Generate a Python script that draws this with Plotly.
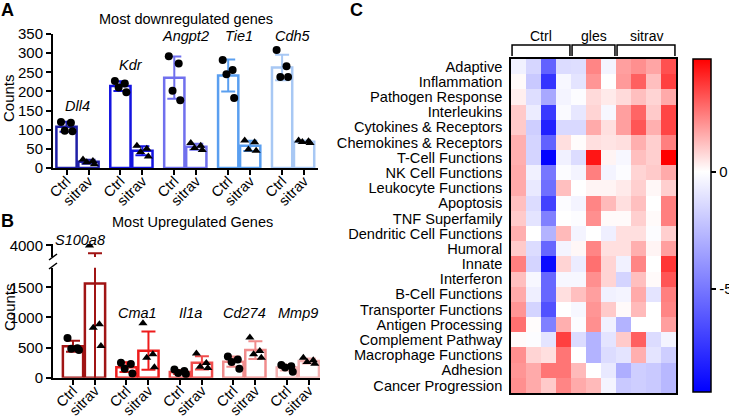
import numpy as np
import plotly.graph_objects as go

W, H = 729, 417
FONT = "Liberation Sans, Arial, sans-serif"

# ---------------- Panel A data ----------------
genes_down = ["Dll4", "Kdr", "Angpt2", "Tie1", "Cdh5"]
ctrl_down = [[120, 118, 97, 96], [227, 221, 210, 198], [292, 273, 202, 177],
             [282, 256, 245, 183], [308, 266, 238, 238]]
sitrav_down = [[22, 18, 15, 10], [58, 50, 42, 30], [65, 58, 52, 47],
               [72, 67, 48, 45], [72, 70, 68, 65]]
colors_down = ["#1f1fa6", "#1414e0", "#7070ee", "#5a9ff0", "#a8c8f4"]

# ---------------- Panel B data ----------------
genes_up = ["S100a8", "Cma1", "Il1a", "Cd274", "Mmp9"]
ctrl_up = [[660, 490, 480, 460], [250, 227, 150, 70], [135, 110, 80, 60],
           [350, 300, 260, 150], [210, 190, 170, 100]]
sitrav_up = [[4000, 887, 830, 527], [903, 388, 332, 173], [400, 245, 180, 160],
             [667, 443, 390, 333], [330, 290, 260, 230]]
colors_up = ["#a01414", "#ee1c1c", "#f04c4c", "#f08c8c", "#f4b2b2"]

conditions = ["Ctrl", "sitrav"]
y_ticks_a = [0, 50, 100, 150, 200, 250, 300, 350]
y_ticks_b_low = [0, 500, 1000, 1500]
y_ticks_b_high = [4000]

# ---------------- Panel C data ----------------
pathways = ["Adaptive", "Inflammation", "Pathogen Response", "Interleukins",
            "Cytokines & Receptors", "Chemokines & Receptors", "T-Cell Functions",
            "NK Cell Functions", "Leukocyte Functions", "Apoptosis", "TNF Superfamily",
            "Dendritic Cell Functions", "Humoral", "Innate", "Interferon",
            "B-Cell Functions", "Transporter Functions", "Antigen Processing",
            "Complement Pathway", "Macrophage Functions", "Adhesion", "Cancer Progression"]
heat_groups = ["Ctrl", "gles", "sitrav"]
heat_group_sizes = [4, 3, 4]
heat_values = [
    [-0.5, -1.5, -5.8, -1.3, -1.2, 2.3, -0.4, 1.8, 2.1, 1.7, 3.3],
    [0.1, -2.0, -7.5, -0.3, -1.0, 2.0, 0.0, 1.9, 3.0, 1.2, 3.6],
    [0.3, -1.2, -3.2, -0.4, -0.1, 0.7, 0.4, 0.7, 1.2, 0.8, 1.6],
    [1.0, -0.7, -7.3, -0.2, -0.9, 0.8, -0.3, 1.8, 2.9, 1.0, 3.5],
    [1.0, -1.8, -8.2, -1.4, -1.4, 1.6, 0.6, 1.8, 3.2, 1.5, 3.5],
    [1.5, -1.6, -5.8, 0.6, 0.05, 0.6, 0.5, 0.6, 1.5, 0.9, 2.4],
    [1.5, -1.6, -9.3, -0.5, -1.3, 4.4, 0.2, -0.3, 1.2, 0.9, 4.8],
    [1.6, -0.5, -5.0, -0.1, -0.4, 2.4, -0.4, -0.1, 0.8, 1.0, 1.6],
    [1.6, -0.8, -5.3, 1.2, 0.0, 0.2, 0.2, 0.4, 0.9, 0.15, 0.9],
    [1.2, -1.3, -7.0, -0.1, -0.4, 2.3, 1.3, 0.6, 1.2, 0.0, 2.4],
    [1.0, -1.0, -4.7, 0.0, -0.1, 2.1, 0.1, 0.1, 0.9, 0.1, 2.4],
    [1.5, 0.0, -2.8, 1.3, -0.4, 0.0, -0.6, 0.6, 0.6, -0.1, 0.9],
    [1.0, -1.3, -5.6, -0.4, 0.15, 2.3, 0.6, 0.6, 1.5, 0.2, 1.8],
    [2.4, -1.6, -9.0, 0.8, -0.7, 2.7, 0.8, -0.5, 2.3, 0.0, 3.8],
    [1.2, -0.3, -5.6, -0.3, -0.3, 2.1, 0.8, -1.6, 1.2, 0.1, 3.2],
    [1.6, -0.6, -5.6, 0.6, 1.2, 1.8, -0.5, -0.4, 1.6, -1.0, 2.4],
    [2.0, -1.6, -6.4, 0.0, -0.3, 2.0, 1.0, 0.1, 1.3, 0.0, 2.3],
    [2.7, 0.05, -4.7, 1.5, -0.1, 2.1, -0.5, -2.8, 0.0, 0.0, 1.8],
    [0.1, -0.1, -1.0, 3.6, -1.3, -2.8, -1.0, 1.0, 3.0, -1.3, -0.4],
    [2.1, 0.8, 0.6, 2.6, 0.0, -2.8, -1.3, -1.0, 1.5, -1.0, -1.8],
    [2.0, 1.6, 2.6, 2.6, 1.3, 0.0, -0.8, -3.0, -1.8, -2.0, -2.6],
    [2.1, 1.6, 1.0, 2.3, 1.6, 1.3, -0.4, -2.0, -1.8, -2.0, -2.6],
]
z_min, z_max = -9.4, 4.8
cbar_ticks = [0, -5]


def px(x):
    return x / W


def py(y):
    return 1 - y / H


fig = go.Figure()

jitter = [-0.25, 0.2, -0.08, 0.27]
GROUP_STEP_A = 2.45
GROUP_STEP_B = 2.43
BAR_W = 0.92


def add_bar_panel(genes, ctrl, sitrav, colors, step, xa, ya_list):
    for g, gene in enumerate(genes):
        xs = [g * step, g * step + 1]
        data = [np.array(ctrl[g], float), np.array(sitrav[g], float)]
        means = [d.mean() for d in data]
        sds = [d.std(ddof=1) for d in data]
        for ya in ya_list:
            fig.add_trace(go.Bar(
                x=xs, y=means, width=BAR_W, xaxis=xa, yaxis=ya,
                marker=dict(color="white", line=dict(color=colors[g], width=2.5)),
                error_y=dict(type="data", array=sds, visible=True,
                             color=colors[g], thickness=2, width=7),
                showlegend=False, hoverinfo="skip"))
            for c, sym in enumerate(["circle", "triangle-up"]):
                pts = data[c]
                fig.add_trace(go.Scatter(
                    x=[xs[c] + jitter[i % 4] for i in range(len(pts))], y=pts,
                    mode="markers", xaxis=xa, yaxis=ya,
                    marker=dict(symbol=sym, size=8, color="black"),
                    showlegend=False, hoverinfo="skip"))


add_bar_panel(genes_down, ctrl_down, sitrav_down, colors_down, GROUP_STEP_A, "x", ["y"])
add_bar_panel(genes_up, ctrl_up, sitrav_up, colors_up, GROUP_STEP_B, "x2", ["y2", "y3"])

# Heatmap
col_labels = []
for gname, n in zip(heat_groups, heat_group_sizes):
    col_labels += [gname] * n
fig.add_trace(go.Heatmap(
    z=heat_values, x=list(range(len(col_labels))), y=pathways,
    xaxis="x3", yaxis="y4", zmin=z_min, zmax=z_max,
    colorscale=[[0, "#0000ff"], [(0 - z_min) / (z_max - z_min), "#ffffff"], [1, "#ff0000"]],
    colorbar=dict(x=px(693), xanchor="left", xpad=0, y=py(59), yanchor="top", ypad=0,
                  len=(392 - 59) / H, thickness=18, outlinecolor="black", outlinewidth=1.5,
                  tickvals=cbar_ticks, ticktext=[str(t) for t in cbar_ticks],
                  ticks="outside", ticklen=5, tickwidth=1.5, tickcolor="black",
                  tickfont=dict(size=15, color="black", family=FONT)),
    showscale=True, hoverinfo="skip"))

tick_pos_a = [g * GROUP_STEP_A + c for g in range(len(genes_down)) for c in range(2)]
tick_pos_b = [g * GROUP_STEP_B + c for g in range(len(genes_up)) for c in range(2)]
tick_txt = conditions * len(genes_down)

axis_common = dict(showline=True, linecolor="black", linewidth=2, ticks="outside",
                   ticklen=5, tickwidth=2, tickcolor="black", showgrid=False,
                   zeroline=False, tickfont=dict(size=15, color="black", family=FONT))
x_tickfont = dict(size=14.5, color="black", family=FONT)

fig.update_layout(
    width=W, height=H, margin=dict(l=0, r=0, t=0, b=0, autoexpand=False),
    paper_bgcolor="white", plot_bgcolor="white",
    font=dict(family=FONT, color="black"),
    barmode="overlay",
    xaxis=dict(domain=[px(53), px(318)], range=[-13.5 / 22, 251.5 / 22], anchor="y",
               tickvals=tick_pos_a, ticktext=tick_txt, tickangle=-45,
               ticklabelstandoff=-8, **{**axis_common, "tickfont": x_tickfont}),
    yaxis=dict(domain=[py(168), py(34)], range=[0, 350], anchor="x",
               tickvals=y_ticks_a, **axis_common),
    xaxis2=dict(domain=[px(53), px(320)], range=[-20 / 22, 247 / 22], anchor="y2",
                tickvals=tick_pos_b, ticktext=tick_txt, tickangle=-45,
                ticklabelstandoff=-8, **{**axis_common, "tickfont": x_tickfont}),
    yaxis2=dict(domain=[py(377.7), py(267.7)], range=[0, 1825], anchor="x2",
                tickvals=y_ticks_b_low, **axis_common),
    yaxis3=dict(domain=[py(257), py(244)], range=[2800, 4150], anchor="x2",
                tickvals=y_ticks_b_high, **axis_common),
    xaxis3=dict(domain=[px(511), px(676)], range=[-0.5, len(col_labels) - 0.5], anchor="y4",
                showline=True, mirror=True, linecolor="black", linewidth=1.5,
                showticklabels=False, ticks="", showgrid=False, zeroline=False),
    yaxis4=dict(domain=[py(393), py(59)], anchor="x3", autorange="reversed",
                tickmode="array", tickvals=pathways, ticktext=pathways,
                showline=True, mirror=True, linecolor="black", linewidth=1.5,
                ticks="", showgrid=False, zeroline=False, ticklabelstandoff=4,
                tickfont=dict(size=14.6, color="black", family=FONT)),
)


def A(**kw):
    kw.setdefault("xanchor", "center")
    kw.setdefault("yanchor", "middle")
    kw.setdefault("showarrow", False)
    return kw


ann = []
# panel letters
for letter, x, y in [("A", 7, 10), ("B", 7, 221), ("C", 356, 10)]:
    ann.append(A(text=f"<b>{letter}</b>", x=px(x), y=py(y), xref="paper", yref="paper",
                 font=dict(size=18, family=FONT, color="black")))
# titles
ann.append(A(text="Most downregulated genes", x=px(186), y=py(19), xref="paper", yref="paper",
             font=dict(size=14.5, family=FONT, color="black")))
ann.append(A(text="Most Upregulated Genes", x=px(192), y=py(222), xref="paper", yref="paper",
             font=dict(size=14.5, family=FONT, color="black")))
# y titles
for y in [98, 307]:
    ann.append(A(text="Counts", x=px(9), y=py(y), xref="paper", yref="paper", textangle=-90,
                 font=dict(size=15, family=FONT, color="black")))
# gene labels panel A
for g, gene in enumerate(genes_down):
    d = np.array(ctrl_down[g], float)
    top = max(d.max(), d.mean() + d.std(ddof=1))
    ly = top + 42 if top + 42 < 300 else 345
    ann.append(A(text=f"<i>{gene}</i>", x=g * GROUP_STEP_A + 0.5, y=ly, xref="x", yref="y",
                 font=dict(size=14.5, family=FONT, color="black")))
# gene labels panel B
for g, gene in enumerate(genes_up):
    if g == 0:
        ann.append(A(text=f"<i>{gene}</i>", x=g * GROUP_STEP_B + 0.3, y=py(240), xref="x2",
                     yref="paper", font=dict(size=14.5, family=FONT, color="black")))
    else:
        ann.append(A(text=f"<i>{gene}</i>", x=g * GROUP_STEP_B + 0.5, y=1075, xref="x2",
                     yref="y2", font=dict(size=14.5, family=FONT, color="black")))

# heatmap group brackets
shapes = []
start = 0
for gname, n in zip(heat_groups, heat_group_sizes):
    x0 = start - 0.43
    x1 = start + n - 1 + 0.43
    shapes.append(dict(type="path", xref="x3", yref="paper",
                       path=f"M {x0},{py(56)} L {x0},{py(45)} L {x1},{py(45)} L {x1},{py(56)}",
                       line=dict(color="black", width=1.5)))
    ann.append(A(text=gname, x=(x0 + x1) / 2, y=py(36), xref="x3", yref="paper",
                 font=dict(size=14, family=FONT, color="black")))
    start += n

# axis break marks panel B
for yb in [257, 266]:
    shapes.append(dict(type="line", xref="paper", yref="paper",
                       x0=px(49), y0=py(yb + 3), x1=px(57), y1=py(yb - 3),
                       line=dict(color="black", width=1.5)))

fig.update_layout(annotations=ann, shapes=shapes)
fig.write_html("out.html", config={"displayModeBar": False},
               post_script="document.body.style.margin='0';document.body.style.overflow='hidden';")
